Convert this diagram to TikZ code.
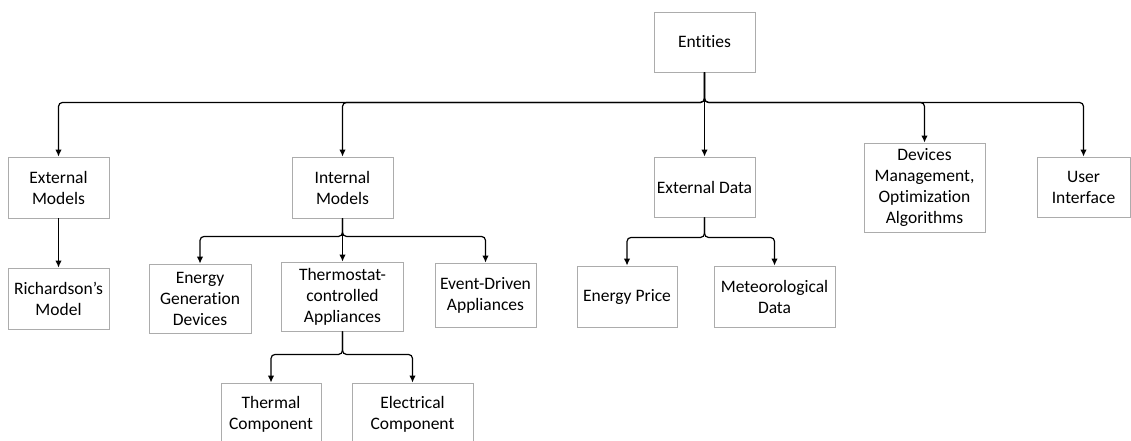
\documentclass[tikz,border=0pt]{standalone}
\usepackage{fontspec}
\setmainfont[Ligatures={NoCommon}]{Carlito}
\usepackage{tikz}
\usetikzlibrary{arrows.meta, positioning}

\begin{document}
\begin{tikzpicture}[x=1pt, y=-1pt,
				>={Latex[length=7pt,width=6.5pt]},
				box/.style={draw=gray!65, line width=0.9pt, inner sep=0pt, align=center,
					font=\fontsize{17.5}{21}\selectfont},
				conn/.style={->, line width=1.2pt, rounded corners=4pt}]

				\useasboundingbox (0,0) rectangle (1131,441);

				% top level
				\node[box, minimum width=101, minimum height=60] (entities) at (704.5,42) {Entities};

				\node[box, minimum width=101, minimum height=61] (extmod) at (58.5,187.5) {External\\Models};
				\node[box, minimum width=101, minimum height=61] (intmod) at (342.5,187.5) {Internal\\Models};
				\node[box, minimum width=101, minimum height=60] (extdata) at (704.5,187) {External Data};
				\node[box, minimum width=121, minimum height=89] (devmgmt) at (924.5,187.5) {Devices\\Management,\\Optimization\\Algorithms};
				\node[box, minimum width=93, minimum height=60] (userif) at (1083.5,187) {User\\Interface};

				% second level
				\node[box, minimum width=101, minimum height=61] (richardson) at (58.5,298.5) {Richardson’s\\Model};
				\node[box, minimum width=102, minimum height=69] (energygen) at (200,298.5) {Energy\\Generation\\Devices};
				\node[box, minimum width=122, minimum height=69] (thermostat) at (342.5,296.5) {Thermostat-\\controlled\\Appliances};
				\node[box, minimum width=101, minimum height=64] (eventdriven) at (485.5,295) {Event-Driven\\Appliances};
				\node[box, minimum width=100, minimum height=61] (energyprice) at (627,296.5) {Energy Price};
				\node[box, minimum width=121, minimum height=61] (meteo) at (774.5,296.5) {Meteorological\\Data};

				% third level
				\node[box, minimum width=100, minimum height=62] (thermal) at (271,414) {Thermal\\Component};
				\node[box, minimum width=121, minimum height=62] (electrical) at (412.5,414) {Electrical\\Component};

				% connectors
				\draw[conn] (entities.south) -- ++(0,30) -| (extmod.north);
				\draw[conn] (entities.south) -- ++(0,30) -| (intmod.north);
				\draw[conn] (entities.south) -- (extdata.north);
				\draw[conn] (entities.south) -- ++(0,30) -| (devmgmt.north);
				\draw[conn] (entities.south) -- ++(0,30) -| (userif.north);

				\draw[conn] (extmod.south) -- (richardson.north);

				\draw[conn] (intmod.south) -- ++(0,18) -| (energygen.north);
				\draw[conn] (intmod.south) -- (thermostat.north);
				\draw[conn] (intmod.south) -- ++(0,18) -| (eventdriven.north);

				\draw[conn] (extdata.south) -- ++(0,20) -| (energyprice.north);
				\draw[conn] (extdata.south) -- ++(0,20) -| (meteo.north);

				\draw[conn] (thermostat.south) -- ++(0,23) -| (thermal.north);
				\draw[conn] (thermostat.south) -- ++(0,23) -| (electrical.north);
			\end{tikzpicture}
\end{document}
